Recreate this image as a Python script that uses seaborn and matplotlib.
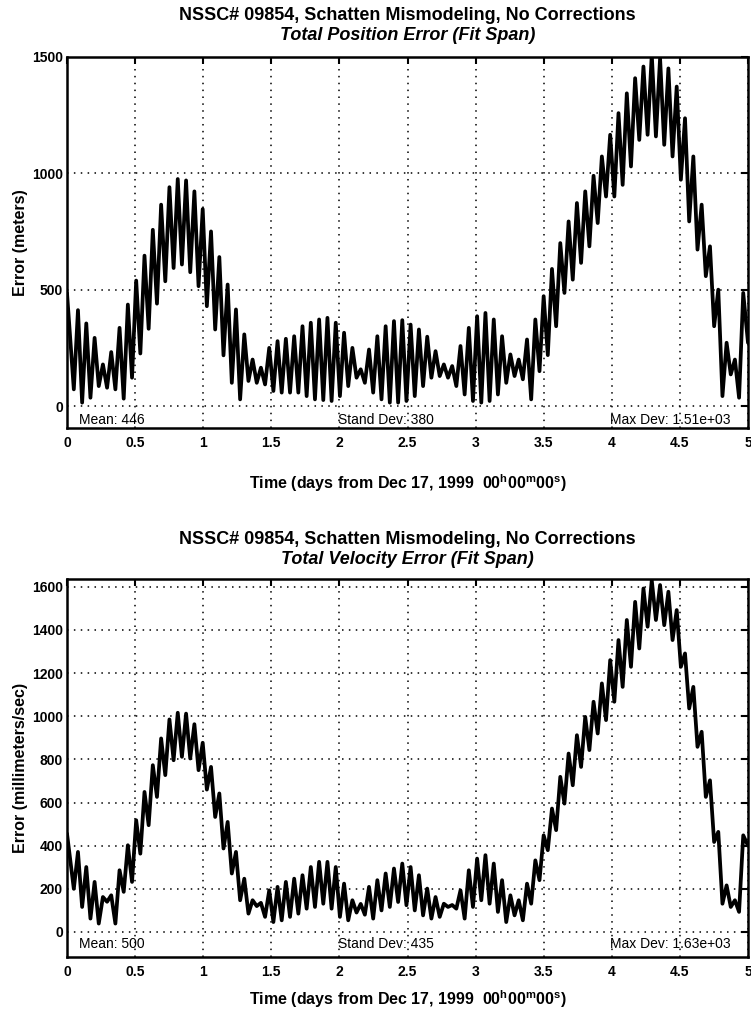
import numpy as np
import pandas as pd
import matplotlib
matplotlib.use("Agg")
import matplotlib.pyplot as plt
import seaborn as sns

# ---------------- data ----------------
# time axis limits (days) and the span that holds the orbit-rate extrema
days = [0, 0.5, 1, 1.5, 2, 2.5, 3, 3.5, 4, 4.5, 5]
t_first_extremum = 0.05
t_last_extremum = 4.965

# Total position error (meters): value at t=0, per-orbit troughs / peaks, value at t=5
pos_start = 487
pos_end = 273
pos_troughs = [73, 16, 37, 87, 80, 73, 33, 123, 227, 333, 441, 537, 594, 609, 576, 516,
               430, 330, 219, 101, 30, 109, 101, 94, 66, 59, 59,
               59, 44, 30, 27, 23, 44, 87, 123, 101, 59, 30, 16, 16, 23, 44, 87, 123,
               130, 123, 87, 51, 23, 16, 23, 51, 101, 130,
               116, 30, 151, 220, 344, 487, 544, 616, 687, 787, 901, 901, 951, 1030,
               1144, 1166, 1159, 1123, 1073, 973, 794, 673, 559, 344, 44, 137, 37]
pos_peaks = [413, 356, 294, 180, 233, 337, 437, 540, 647, 758, 866, 941, 976, 970, 923,
             847, 751, 641, 523, 416, 309, 201, 166, 251, 280, 290, 301,
             344, 359, 373, 380, 359, 316, 251, 159, 244, 301, 344, 366, 370, 351, 330,
             299, 237, 180, 173, 259, 337, 387, 401, 373, 301, 223, 201,
             287, 373, 473, 590, 701, 794, 873, 923, 990, 1073, 1166, 1259, 1344, 1409,
             1459, 1510, 1495, 1451, 1373, 1237, 1073, 866, 687, 501, 273, 201, 487]

# Total velocity error (millimeters/sec)
vel_start = 456
vel_end = 400
vel_troughs = [200, 116, 62, 39, 140, 39, 186, 232, 363, 495, 626, 727, 796, 812, 804,
               750, 660, 533, 387, 271, 147, 85, 120, 70, 46, 54, 70, 85, 108, 116, 131,
               108, 70, 54, 90, 80, 62,
               100, 116, 139, 124, 100, 77, 62, 70, 116, 108, 62, 116, 147, 131, 93, 46,
               77, 54, 131, 240, 379, 472, 595, 680, 765, 843, 920, 982, 1067, 1136,
               1229, 1314, 1415, 1446, 1422, 1353, 1229, 1036, 858, 626, 417, 131, 116, 93]
vel_peaks = [371, 301, 232, 162, 170, 286, 402, 518, 649, 773, 897, 985, 1016, 1012, 963,
             877, 765, 642, 510, 371, 247, 147, 135, 193, 209, 232, 247, 263, 301, 325,
             325, 301, 224, 147, 130, 209, 240,
             271, 294, 317, 301, 263, 201, 162, 131, 125, 193, 286, 340, 356, 317, 240,
             170, 147, 224, 332, 448, 572, 719, 827, 912, 997, 1067, 1152, 1260, 1353,
             1446, 1530, 1592, 1630, 1608, 1577, 1492, 1291, 1136, 928, 703, 464, 216,
             147, 448]

pos_stats = ["Mean: 446", "Stand Dev: 380", "Max Dev: 1.51e+03"]
vel_stats = ["Mean: 500", "Stand Dev: 435", "Max Dev: 1.63e+03"]

title_main = "NSSC# 09854, Schatten Mismodeling, No Corrections"
pos_sub = "Total Position Error (Fit Span)"
vel_sub = "Total Velocity Error (Fit Span)"
xlab = ("Time (days from Dec 17, 1999  00$^{\\mathrm{h}}$00$^{\\mathrm{m}}$"
        "00$^{\\mathrm{s}}$)")
pos_ylab = "Error (meters)"
vel_ylab = "Error (millimeters/sec)"
pos_yticks = [0, 500, 1000, 1500]
vel_yticks = [0, 200, 400, 600, 800, 1000, 1200, 1400, 1600]


def build(start, troughs, peaks, end):
    ext = np.empty(2 * len(peaks))
    ext[0::2] = troughs
    ext[1::2] = peaks
    t = np.concatenate([[days[0]],
                        np.linspace(t_first_extremum, t_last_extremum, ext.size),
                        [days[-1]]])
    v = np.concatenate([[start], ext, [end]])
    return pd.DataFrame({"t": t, "v": v})


pos_df = build(pos_start, pos_troughs, pos_peaks, pos_end)
vel_df = build(vel_start, vel_troughs, vel_peaks, vel_end)

# ---------------- style ----------------
sns.set_style("white")
plt.rcParams["font.family"] = ["Liberation Sans", "DejaVu Sans"]
plt.rcParams["text.color"] = "black"
plt.rcParams["axes.labelcolor"] = "black"
plt.rcParams["mathtext.fontset"] = "custom"
plt.rcParams["mathtext.rm"] = "Liberation Sans:bold"
plt.rcParams["mathtext.it"] = "Liberation Sans:bold:italic"
plt.rcParams["mathtext.bf"] = "Liberation Sans:bold"

W, H = 751, 1010
fig = plt.figure(figsize=(W / 100, H / 100), dpi=100)
ax1 = fig.add_axes([67 / W, 1 - 428 / H, 681 / W, 371 / H])
ax2 = fig.add_axes([67 / W, 1 - 957 / H, 681 / W, 378 / H])

panels = [
    (ax1, pos_df, (-93, 1500), pos_yticks, pos_ylab, pos_sub, pos_stats, 15, 36, -60, -0.12),
    (ax2, vel_df, (-116, 1636), vel_yticks, vel_ylab, vel_sub, vel_stats, 539, 559, -54, -0.083),
]

for ax, df, ylim, yt, ylab, sub, stats, ty1, ty2, sty, xly in panels:
    sns.lineplot(data=df, x="t", y="v", ax=ax, color="black", linewidth=2.7,
                 estimator=None, sort=False)
    for ln in ax.get_lines():
        ln.set_solid_joinstyle("round")
        ln.set_solid_capstyle("round")
    ax.set_xlim(days[0], days[-1])
    ax.set_ylim(*ylim)
    ax.set_xticks(days)
    ax.set_xticklabels([f"{d:g}" for d in days])
    ax.set_yticks(yt)
    ax.set_yticklabels([str(v) for v in yt])
    ax.grid(True, color="black", linestyle=(0, (1, 3.5)), linewidth=1.1)
    for s in ax.spines.values():
        s.set_linewidth(1.8)
        s.set_color("black")
    ax.tick_params(direction="in", length=5, width=1.5, top=True, right=True,
                   labelsize=10, colors="black")
    ax.tick_params(axis="x", pad=6)
    ax.tick_params(axis="y", pad=3)
    for lbl in ax.get_xticklabels() + ax.get_yticklabels():
        lbl.set_fontweight("bold")
    ax.set_ylabel(ylab, fontsize=11.5, fontweight="bold")
    ax.set_xlabel(xlab, fontsize=11.5, fontweight="bold")
    ax.yaxis.set_label_coords(-0.058, 0.5)
    ax.xaxis.set_label_coords(0.5, xly)
    fig.text(407.5 / W, 1 - ty1 / H, title_main, ha="center", va="center",
             fontsize=13, fontweight="bold")
    fig.text(407.5 / W, 1 - ty2 / H, sub, ha="center", va="center",
             fontsize=13, fontweight="bold", style="italic")
    ax.text(0.09, sty, stats[0], fontsize=10, va="center", ha="left")
    ax.text(1.99, sty, stats[1], fontsize=10, va="center", ha="left")
    ax.text(3.99, sty, stats[2], fontsize=10, va="center", ha="left")

fig.savefig("out.png", dpi=100)
